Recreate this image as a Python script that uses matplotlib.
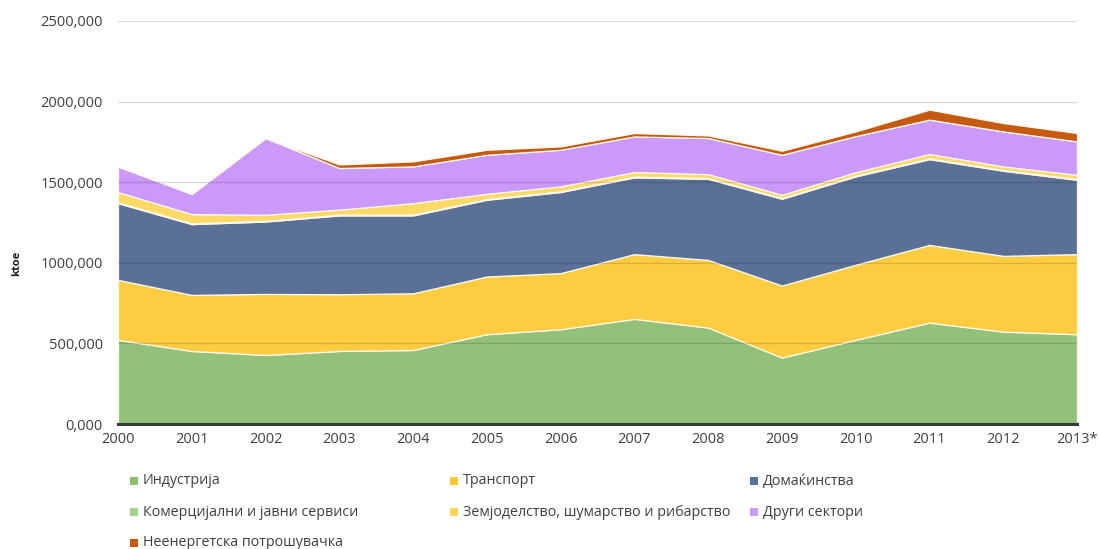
import matplotlib
matplotlib.use("Agg")
import matplotlib.pyplot as plt
from matplotlib.patches import Rectangle

plt.rcParams["font.family"] = ["Open Sans", "DejaVu Sans"]

years = ["2000", "2001", "2002", "2003", "2004", "2005", "2006",
         "2007", "2008", "2009", "2010", "2011", "2012", "2013*"]

industry = [522, 453, 428, 453, 459, 557, 588, 652, 598, 412, 522, 629, 573, 557]
transport = [372, 348, 379, 352, 352, 358, 348, 402, 420, 447, 466, 482, 470, 497]
households = [476, 439, 449, 489, 483, 476, 503, 476, 503, 538, 548, 532, 528, 461]
commercial = [5, 5, 5, 5, 5, 5, 5, 5, 5, 5, 5, 5, 5, 5]
agriculture = [64, 57, 37, 31, 71, 32, 30, 28, 24, 20, 21, 27, 22, 26]
other = [159, 126, 476, 258, 228, 242, 227, 221, 224, 248, 224, 213, 217, 207]
non_energy = [0, 0, 0, 22, 31, 31, 21, 21, 16, 25, 29, 62, 52, 52]

labels = ["Индустрија", "Транспорт", "Домаќинства",
          "Комерцијални и јавни сервиси", "Земјоделство, шумарство и рибарство",
          "Други сектори", "Неенергетска потрошувачка"]
fill_colors = ["#93C17A", "#FECC40", "#5B7096", "#A8D08D", "#FFD966", "#CB99FA", "#C55A11"]
legend_colors = ["#8DBF70", "#FFC83A", "#5B7096", "#A8D08D", "#FFD45A", "#CB99FA", "#C55A11"]

TEXT = "#404040"

fig = plt.figure(figsize=(10.99, 5.49), dpi=100)
ax = fig.add_axes([118 / 1099, 1 - 424 / 549, (1077 - 118) / 1099, (424 - 21) / 549])

x = list(range(len(years)))
polys = ax.stackplot(x, industry, transport, households, commercial, agriculture,
                     other, non_energy, colors=fill_colors, zorder=2)
for p in polys:
    p.set_edgecolor("#FFF8EC")
    p.set_linewidth(0.9)

ax.set_xlim(0, len(years) - 1)
ax.set_ylim(0, 2500)
ax.set_yticks([0, 500, 1000, 1500, 2000, 2500])
ax.set_yticklabels([f"{v},000" for v in [0, 500, 1000, 1500, 2000, 2500]])
ax.set_xticks(x)
ax.set_xticklabels(years)
ax.tick_params(axis="both", length=0, labelsize=10.5, colors=TEXT)
ax.tick_params(axis="y", pad=11)
ax.tick_params(axis="x", pad=6)

for v in [500, 1000, 1500, 2000, 2500]:
    ax.axhline(v, color="black", alpha=0.14, linewidth=1.0, zorder=3)

for s in ["left", "right", "top"]:
    ax.spines[s].set_visible(False)
ax.spines["bottom"].set_color("#3A3A3A")
ax.spines["bottom"].set_linewidth(2.2)
ax.spines["bottom"].set_zorder(4)

fig.text(17 / 1099, 1 - 263 / 549, "ktoe", rotation=90, ha="center", va="center",
         fontsize=8, fontweight="bold", color="#202020")

# legend, row by row
col_x = [130, 450, 750]
row_y = [481, 512, 543]
for i, (lab, c) in enumerate(zip(labels, legend_colors)):
    r, k = divmod(i, 3)
    px, py = col_x[k], row_y[r]
    fig.add_artist(Rectangle((px / 1099, 1 - (py + 4) / 549), 8 / 1099, 8 / 549,
                             transform=fig.transFigure, facecolor=c, edgecolor="none"))
    fig.text((px + 13) / 1099, 1 - py / 549, lab, ha="left", va="center",
             fontsize=10.3, color=TEXT)

fig.savefig("out.png", dpi=100, facecolor="white")
